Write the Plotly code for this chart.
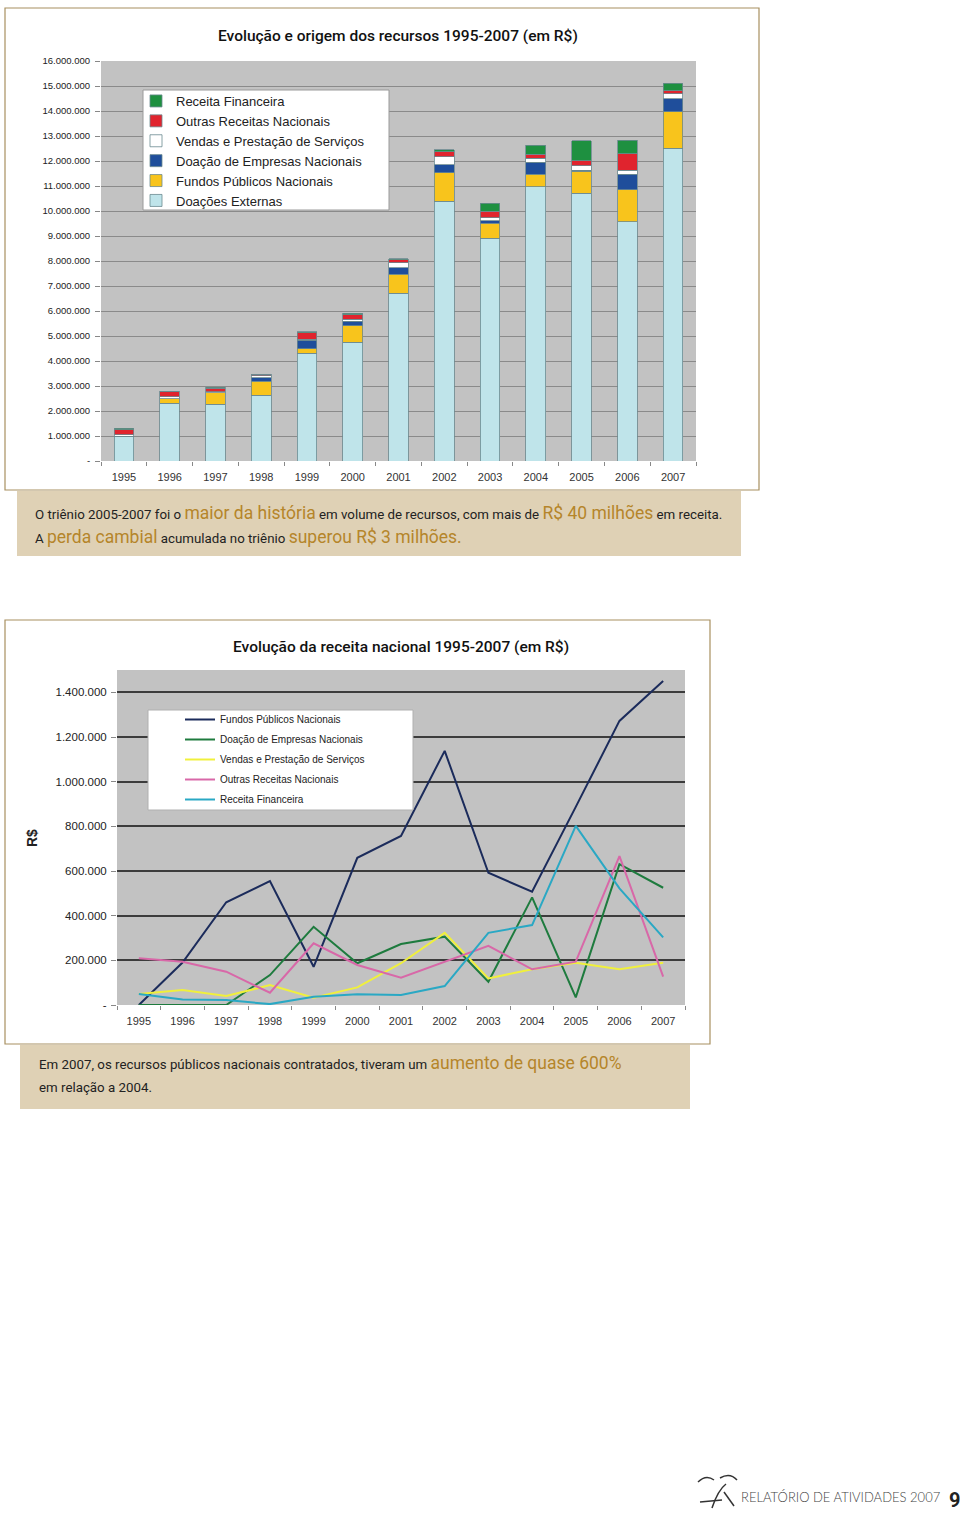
import plotly.graph_objects as go

# ---------------- data ----------------
years = [str(y) for y in range(1995, 2008)]

# Stacked bar chart (R$)
doacoes_externas = [1000000, 2310000, 2270000, 2640000, 4310000, 4750000, 6710000,
                    10400000, 8910000, 10970000, 10710000, 9570000, 12520000]
fundos_publicos = [0, 190000, 460000, 555000, 171000, 659000, 757000,
                   1138000, 592000, 507000, 887000, 1272000, 1451000]
doacao_empresas = [0, 0, 0, 134000, 350000, 187000, 273000,
                   306000, 104000, 482000, 34000, 631000, 525000]
vendas_servicos = [49000, 67000, 40000, 89000, 33000, 79000, 187000,
                   323000, 119000, 160000, 189000, 160000, 189000]
outras_receitas = [209000, 194000, 149000, 55000, 276000, 179000, 122000,
                   194000, 265000, 160000, 194000, 667000, 127000]
receita_financeira = [49000, 25000, 22000, 4000, 37000, 48000, 45000,
                      85000, 323000, 358000, 802000, 522000, 303000]

top_ticks = list(range(0, 16000001, 1000000))
top_ticktext = ["-"] + [f"{v // 1000000}.000.000" for v in top_ticks[1:]]
bot_ticks = list(range(0, 1400001, 200000))
bot_ticktext = ["-"] + [f"{v // 1000000}.{(v // 1000) % 1000:03d}.000" if v >= 1000000
                        else f"{v // 1000}.000" for v in bot_ticks[1:]]

# ---------------- helpers ----------------
W, H = 960, 1513


def px(x):
    return x / W


def py(y):
    return 1 - y / H


FONT_C = "Roboto, Liberation Sans Narrow, sans-serif"
FONT_A = "Liberation Sans, Arial, sans-serif"
GOLD = "#b5852a"

fig = go.Figure()

# ---------------- top chart: stacked bars ----------------
bar_series = [
    ("Doações Externas", doacoes_externas, "#bfe4ea"),
    ("Fundos Públicos Nacionais", fundos_publicos, "#f8c41c"),
    ("Doação de Empresas Nacionais", doacao_empresas, "#1f4e9b"),
    ("Vendas e Prestação de Serviços", vendas_servicos, "#ffffff"),
    ("Outras Receitas Nacionais", outras_receitas, "#e0242e"),
    ("Receita Financeira", receita_financeira, "#1e9040"),
]
for name, vals, col in bar_series:
    fig.add_trace(go.Bar(
        x=years, y=vals, name=name, xaxis="x", yaxis="y",
        marker=dict(color=col, line=dict(color="#6b8a90", width=0.8)),
        legend="legend", hoverinfo="skip",
    ))

# ---------------- bottom chart: lines ----------------
line_series = [
    ("Fundos Públicos Nacionais", fundos_publicos, "#1b2b5b"),
    ("Doação de Empresas Nacionais", doacao_empresas, "#1e7b3e"),
    ("Vendas e Prestação de Serviços", vendas_servicos, "#f0f03c"),
    ("Outras Receitas Nacionais", outras_receitas, "#d868a8"),
    ("Receita Financeira", receita_financeira, "#2aa8c4"),
]
for i, (name, vals, col) in enumerate(line_series):
    fig.add_trace(go.Scatter(
        x=years, y=vals, name=name, mode="lines", xaxis="x2", yaxis="y2",
        line=dict(color=col, width=2), legend="legend2", legendgroup=f"g{i}",
        hoverinfo="skip",
    ))

# ---------------- shapes ----------------
shapes = [
    # frames
    dict(type="rect", xref="paper", yref="paper", x0=px(5), x1=px(759), y0=py(490), y1=py(8),
         line=dict(color="#a89060", width=1.2), fillcolor="rgba(0,0,0,0)", layer="below"),
    dict(type="rect", xref="paper", yref="paper", x0=px(5), x1=px(710), y0=py(1044), y1=py(620),
         line=dict(color="#a89060", width=1.2), fillcolor="rgba(0,0,0,0)", layer="below"),
    # caption boxes
    dict(type="rect", xref="paper", yref="paper", x0=px(17), x1=px(741), y0=py(556), y1=py(491),
         line=dict(width=0), fillcolor="#dfd1b5", layer="below"),
    dict(type="rect", xref="paper", yref="paper", x0=px(20), x1=px(690), y0=py(1109), y1=py(1045),
         line=dict(width=0), fillcolor="#dfd1b5", layer="below"),
    # legend boxes
    dict(type="rect", xref="paper", yref="paper", x0=px(143), x1=px(389), y0=py(210), y1=py(90),
         line=dict(color="#9a9a9a", width=1), fillcolor="#ffffff", layer="above"),
    dict(type="rect", xref="paper", yref="paper", x0=px(148), x1=px(413), y0=py(810), y1=py(710),
         line=dict(color="#b0b0b0", width=1), fillcolor="#ffffff", layer="above"),
]

# rough footer logo strokes
logo = [
    "M {} {} Q {} {} {} {}".format(px(698), py(1482), px(706), py(1474), px(714), py(1480)),
    "M {} {} L {} {}".format(px(700), py(1502), px(722), py(1500)),
    "M {} {} Q {} {} {} {}".format(px(712), py(1508), px(718), py(1490), px(726), py(1484)),
    "M {} {} Q {} {} {} {}".format(px(720), py(1478), px(730), py(1472), px(737), py(1480)),
    "M {} {} L {} {}".format(px(724), py(1492), px(734), py(1506)),
]
for p in logo:
    shapes.append(dict(type="path", xref="paper", yref="paper", path=p,
                       line=dict(color="#333333", width=1.5)))

# ---------------- annotations ----------------
ann = []
ann.append(dict(text="Evolução e origem dos recursos 1995-2007 (em R$)", x=px(398), y=py(36),
                xref="paper", yref="paper", showarrow=False, xanchor="center", yanchor="middle",
                font=dict(family=FONT_C, size=15.5, color="#111111", weight=500)))
ann.append(dict(text="Evolução da receita nacional 1995-2007 (em R$)", x=px(401), y=py(647),
                xref="paper", yref="paper", showarrow=False, xanchor="center", yanchor="middle",
                font=dict(family=FONT_C, size=15.5, color="#111111", weight=500)))


def hl(t):
    return f'<span style="font-size:17.5px;color:{GOLD}">{t}</span>'


ann.append(dict(text="O triênio 2005-2007 foi o " + hl("maior da história") +
                " em volume de recursos, com mais de " + hl("R$ 40 milhões") + " em receita.",
                x=px(33), y=py(513), xref="paper", yref="paper", showarrow=False,
                xanchor="left", yanchor="middle", align="left",
                font=dict(family=FONT_C, size=13.3, color="#222222")))
ann.append(dict(text="A " + hl("perda cambial") + " acumulada no triênio " + hl("superou R$ 3 milhões."),
                x=px(33), y=py(537), xref="paper", yref="paper", showarrow=False,
                xanchor="left", yanchor="middle", align="left",
                font=dict(family=FONT_C, size=13.3, color="#222222")))
ann.append(dict(text="Em 2007, os recursos públicos nacionais contratados, tiveram um " +
                hl("aumento de quase 600%"),
                x=px(37), y=py(1063), xref="paper", yref="paper", showarrow=False,
                xanchor="left", yanchor="middle", align="left",
                font=dict(family=FONT_C, size=13.3, color="#222222")))
ann.append(dict(text="em relação a 2004.",
                x=px(37), y=py(1087), xref="paper", yref="paper", showarrow=False,
                xanchor="left", yanchor="middle", align="left",
                font=dict(family=FONT_C, size=13.3, color="#222222")))
ann.append(dict(text="<b>R$</b>", x=px(32), y=py(838), xref="paper", yref="paper",
                showarrow=False, textangle=-90, xanchor="center", yanchor="middle",
                font=dict(family=FONT_A, size=14, color="#222222")))
ann.append(dict(text="RELATÓRIO DE ATIVIDADES 2007", x=px(739), y=py(1497), xref="paper", yref="paper",
                showarrow=False, xanchor="left", yanchor="middle",
                font=dict(family="Lato, Open Sans, sans-serif", size=13, color="#444444", weight=300)))
ann.append(dict(text="<b>9</b>", x=px(954), y=py(1500), xref="paper", yref="paper",
                showarrow=False, xanchor="center", yanchor="middle",
                font=dict(family=FONT_C, size=20, color="#222222")))

# ---------------- layout ----------------
fig.update_layout(
    template="none",
    width=W, height=H,
    autosize=False,
    margin=dict(l=0, r=0, t=0, b=0, pad=0, autoexpand=False),
    paper_bgcolor="#ffffff",
    plot_bgcolor="#c2c2c2",
    barmode="stack",
    bargap=0.57,
    showlegend=True,
    shapes=shapes,
    annotations=ann,
    xaxis=dict(domain=[px(101), px(696)], anchor="y", type="category", automargin=False,
               showgrid=False, ticks="outside", tickson="boundaries", ticklen=4,
               tickcolor="#888888", showline=False, zeroline=False, ticklabelstandoff=8,
               tickfont=dict(family=FONT_A, size=11, color="#333333"), fixedrange=True),
    yaxis=dict(domain=[py(461), py(61)], anchor="x", range=[0, 16000000], automargin=False,
               tickvals=top_ticks, ticktext=top_ticktext, ticks="outside", ticklen=5,
               tickcolor="#888888", showgrid=True, gridcolor="#8a8a8a", gridwidth=1,
               showline=False, zeroline=False, ticklabelstandoff=3,
               tickfont=dict(family=FONT_A, size=9.5, color="#222222"),
               fixedrange=True),
    xaxis2=dict(domain=[px(117), px(685)], anchor="y2", type="category", range=[-0.5, 12.5],
                automargin=False,
                showgrid=False, ticks="outside", tickson="boundaries", ticklen=4,
                tickcolor="#888888", showline=False, zeroline=False, ticklabelstandoff=8,
                tickfont=dict(family=FONT_A, size=11, color="#333333"), fixedrange=True),
    yaxis2=dict(domain=[py(1005), py(670)], anchor="x2", range=[0, 1500000], automargin=False,
                tickvals=bot_ticks, ticktext=bot_ticktext, ticks="outside", ticklen=5,
                tickcolor="#888888", showgrid=True, gridcolor="#3c3c3c", gridwidth=1.5,
                showline=False, zeroline=False, ticklabelstandoff=2,
                tickfont=dict(family=FONT_A, size=11.5, color="#222222"),
                fixedrange=True),
    legend=dict(x=px(136), y=py(86), xanchor="left", yanchor="top", traceorder="reversed",
                bgcolor="rgba(0,0,0,0)", borderwidth=0,
                font=dict(family=FONT_A, size=13, color="#222222"), itemclick=False),
    legend2=dict(x=px(180), y=py(705), xanchor="left", yanchor="top", traceorder="grouped",
                 tracegroupgap=1,
                 bgcolor="rgba(0,0,0,0)", borderwidth=0,
                 font=dict(family=FONT_A, size=10, color="#222222"), itemclick=False),
)

fig.write_html(
    "out.html",
    config={"displayModeBar": False, "responsive": False},
    post_script=(
        "document.documentElement.style.margin='0';"
        "document.body.style.margin='0';document.body.style.padding='0';"
        "document.body.style.overflow='hidden';"
        "var gd=document.getElementById('{plot_id}');"
        "gd.style.position='absolute';gd.style.top='0px';gd.style.left='0px';"
    ),
)
